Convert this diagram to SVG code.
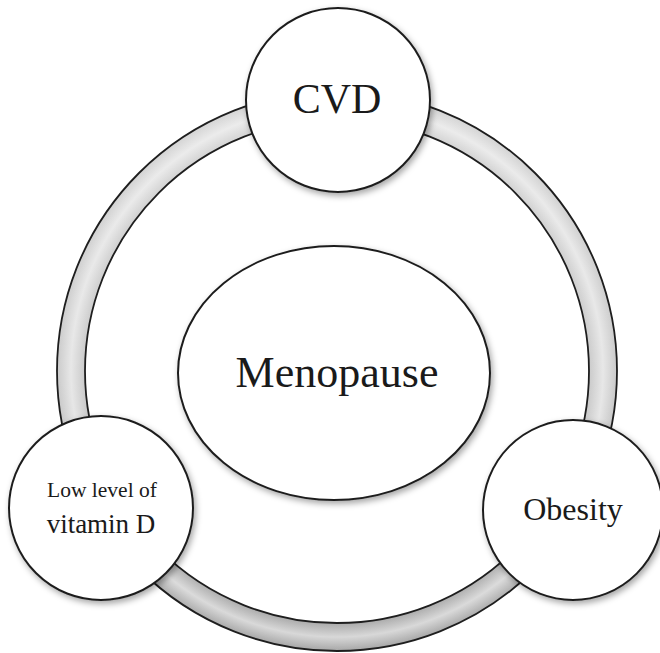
<svg xmlns="http://www.w3.org/2000/svg" width="660" height="653" viewBox="0 0 660 653">
<style>
.node{fill:#fff;stroke:#1e1e1e;stroke-width:2;filter:url(#sh)}
.lbl{font-family:"Liberation Serif","Times New Roman",serif;fill:#1a1a1a;text-anchor:middle}
.edge{fill:none;stroke:#1e1e1e;stroke-width:1.8}
</style>
<defs>
<filter id="sh" x="-20%" y="-20%" width="140%" height="140%">
<feDropShadow dx="2" dy="3" stdDeviation="3" flood-color="#000" flood-opacity="0.35"/>
</filter>
<linearGradient id="bandG" x1="0" y1="90" x2="0" y2="651" gradientUnits="userSpaceOnUse">
<stop offset="0" stop-color="#d6d6d6"/>
<stop offset="0.6" stop-color="#c8c8c8"/>
<stop offset="1" stop-color="#a6a6a6"/>
</linearGradient>
<radialGradient id="hiG" cx="337" cy="371" r="280" gradientUnits="userSpaceOnUse">
<stop offset="0.9" stop-color="#fff" stop-opacity="0"/>
<stop offset="0.95" stop-color="#fff" stop-opacity="0.55"/>
<stop offset="1" stop-color="#fff" stop-opacity="0"/>
</radialGradient>
</defs>
<g id="connectors">
<circle cx="337" cy="371" r="266" fill="none" stroke="url(#bandG)" stroke-width="28"/>
<circle cx="337" cy="371" r="266" fill="none" stroke="url(#hiG)" stroke-width="28"/>
<circle class="edge" cx="337" cy="371" r="280"/>
<circle class="edge" cx="337" cy="371" r="252"/>
</g>
<g id="menopause">
<ellipse class="node" cx="334" cy="373" rx="156" ry="127"/>
<text class="lbl" x="337" y="387" font-size="44">Menopause</text>
</g>
<g id="cvd">
<circle class="node" cx="338" cy="100" r="92"/>
<text class="lbl" x="337" y="113" font-size="42">CVD</text>
</g>
<g id="vitamin">
<circle class="node" cx="101" cy="508" r="92"/>
<text class="lbl" x="102" y="497" font-size="21.5">Low level of</text>
<text class="lbl" x="101" y="533" font-size="27">vitamin D</text>
</g>
<g id="obesity">
<circle class="node" cx="573" cy="510" r="90"/>
<text class="lbl" x="573" y="520" font-size="32">Obesity</text>
</g>
</svg>
